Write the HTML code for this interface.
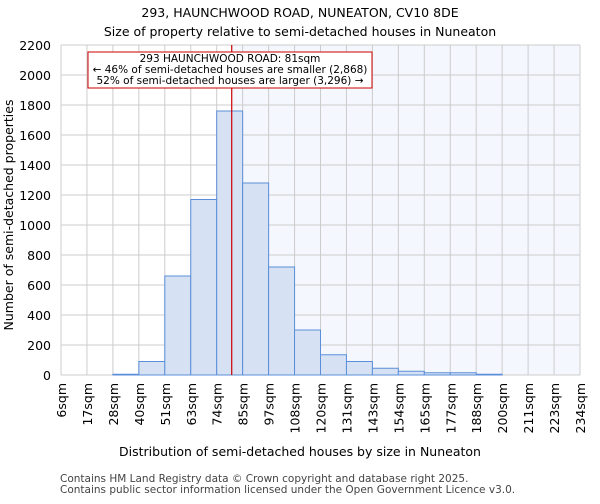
<!DOCTYPE html>
<html><head><meta charset="utf-8"><style>
body{margin:0;background:#fff;font-family:"DejaVu Sans","Liberation Sans",sans-serif;}
</style></head><body>
<svg id="c" width="600" height="500" xmlns="http://www.w3.org/2000/svg" font-family="DejaVu Sans, Liberation Sans, sans-serif"></svg>
<script>
const categories=["6sqm","17sqm","28sqm","40sqm","51sqm","63sqm","74sqm","85sqm","97sqm","108sqm","120sqm","131sqm","143sqm","154sqm","165sqm","177sqm","188sqm","200sqm","211sqm","223sqm","234sqm"];
const binEdges=[6,17.4,28.8,40.2,51.6,63,74.4,85.8,97.2,108.6,120,131.4,142.8,154.2,165.6,177,188.4,199.8,211.2,222.6,234];
const counts=[0,0,5,90,660,1170,1760,1280,720,300,135,90,45,25,15,15,5,0,0,0];
const yTicks=[0,200,400,600,800,1000,1200,1400,1600,1800,2000,2200];
const propertySize=81;
const L=61,R=580,T=45,B=375;
const xs=v=>L+(v-6)/(234-6)*(R-L);
const ys=v=>B-v/2200*(B-T);
const svg=document.getElementById('c');
const NS='http://www.w3.org/2000/svg';
function mk(t,a,txt){const e=document.createElementNS(NS,t);for(const k in a)e.setAttribute(k,a[k]);if(txt!==undefined)e.textContent=txt;svg.appendChild(e);return e;}
let e;
e=mk('text',{x:300,y:17,'text-anchor':'middle','font-size':12.5},'293, HAUNCHWOOD ROAD, NUNEATON, CV10 8DE');


e=mk('text',{x:300,y:36,'text-anchor':'middle','font-size':12.5},'Size of property relative to semi-detached houses in Nuneaton');


e=mk('rect',{x:xs(propertySize),y:T,width:R-xs(propertySize),height:B-T,fill:'#f4f7fd'});


yTicks.forEach(t=>{
 e=mk('line',{x1:L,x2:R,y1:ys(t),y2:ys(t),stroke:'#cccccc','stroke-width':1});
 
 
 e=mk('text',{x:L-10,y:ys(t)+5,'text-anchor':'end','font-size':12.5},String(t));
 
 
});
binEdges.forEach((b,i)=>{
 e=mk('line',{x1:xs(b),x2:xs(b),y1:T,y2:B,stroke:'#cccccc','stroke-width':1});
 
 
 const x=xs(b);
 e=mk('text',{x:0,y:0,'text-anchor':'end','font-size':12.5,transform:`translate(${x+5},${B+8}) rotate(-90)`},categories[i]);
 
 
});
counts.forEach((c,i)=>{
 const x0=xs(binEdges[i]),x1=xs(binEdges[i+1]);
 e=mk('rect',{x:x0,y:ys(c),width:x1-x0,height:B-ys(c),fill:'#d6e1f3',stroke:'#5b8fd9','stroke-width':1});
 
 
});
e=mk('line',{x1:xs(propertySize),x2:xs(propertySize),y1:T,y2:B,stroke:'#cc0000','stroke-width':1.2});


e=mk('rect',{x:88,y:52,width:284,height:36,fill:'#fff',stroke:'#cc0000','stroke-width':1});


[['293 HAUNCHWOOD ROAD: 81sqm',62],['← 46% of semi-detached houses are smaller (2,868)',73],['52% of semi-detached houses are larger (3,296) →',84]].forEach(a=>{
 e=mk('text',{x:230,y:a[1],'text-anchor':'middle','font-size':10.5},a[0]);
 
 
});
e=mk('text',{x:0,y:0,'text-anchor':'middle','font-size':12.5,transform:'translate(13,215) rotate(-90)'},'Number of semi-detached properties');


e=mk('text',{x:300,y:456,'text-anchor':'middle','font-size':12.5},'Distribution of semi-detached houses by size in Nuneaton');


e=mk('text',{x:60,y:482,'font-size':10.5,fill:'#444'},'Contains HM Land Registry data © Crown copyright and database right 2025.');


e=mk('text',{x:60,y:493,'font-size':10.5,fill:'#444'},'Contains public sector information licensed under the Open Government Licence v3.0.');


</script>
</body></html>
